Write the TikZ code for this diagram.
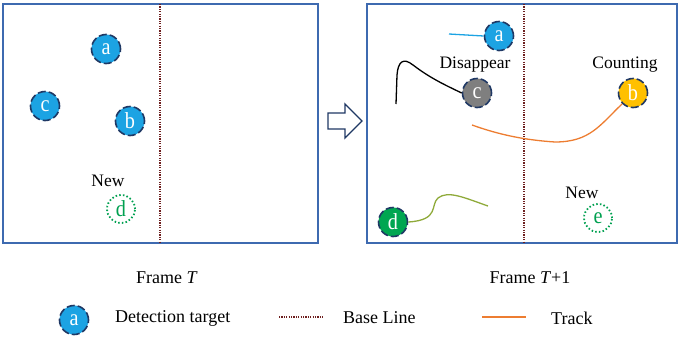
\documentclass[tikz,border=0pt]{standalone}
\usepackage{fontspec}
\setmainfont{Liberation Serif}
\newfontfamily\letfont[FakeStretch=0.88]{Liberation Serif}
\begin{document}
\begin{tikzpicture}[x=1pt,y=-1pt,
  frame/.style={draw=framecol,line width=1.2pt},
  base/.style={draw=baseRed,line width=1.3pt,dash pattern=on 1.2pt off 1.2pt},
  tgt/.style={circle,minimum size=29pt,inner sep=0pt,draw=navy,line width=1.6pt,dash pattern=on 8pt off 3pt,text=white,font=\letfont\fontsize{23}{23}\selectfont},
  newt/.style={circle,minimum size=28pt,inner sep=0pt,draw=dgreen,line width=1.8pt,dash pattern=on 1.5pt off 2.2pt,text=dgreen,font=\letfont\fontsize{23}{23}\selectfont},
  lbl/.style={font=\fontsize{17.5}{17.5}\selectfont},
  captxt/.style={font=\fontsize{18}{18}\selectfont},
  trk/.style={line width=1.3pt}]
\definecolor{framecol}{HTML}{3E6AB0}
\definecolor{baseRed}{HTML}{6E1F1F}
\definecolor{navy}{HTML}{1F3864}
\definecolor{cblue}{HTML}{1CA3E3}
\definecolor{dgreen}{HTML}{00A050}
\definecolor{cgray}{HTML}{7F7F7F}
\definecolor{cyellow}{HTML}{FFC000}
\definecolor{cgreen}{HTML}{00A651}
\definecolor{torange}{HTML}{ED7D31}
\definecolor{tolive}{HTML}{8FAA3A}
\useasboundingbox (0,0) rectangle (685,338);
% frames
\draw[frame] (3,4) rectangle (318,243);
\draw[frame] (367,4) rectangle (677,243);
\coordinate (bl1t) at (160,4); \coordinate (bl1b) at (160,243);
\coordinate (bl2t) at (524,4); \coordinate (bl2b) at (524,243);
\draw[base] (bl1t) -- (bl1b);
\draw[base] (bl2t) -- (bl2b);
% arrow
\draw[draw=navy,line width=1.4pt,line join=miter] (328,113) -- (345,113) -- (345,104) -- (362,121) -- (345,138) -- (345,129) -- (328,129) -- cycle;
% left frame targets
\node[tgt,fill=cblue] (la) at (106,49) {a};
\node[tgt,fill=cblue] (lc) at (45,106) {c};
\node[tgt,fill=cblue] (lb) at (130,121) {b};
\node[lbl] (lnew) at (108,181) {New};
\node[newt] (ld) at (121,209) {d};
% right frame
\node[tgt,fill=cblue] (ra) at (499,36) {a};
\coordinate (ta0) at (449,34);
\draw[trk,cblue] (ta0) -- (ra.west);
\node[lbl] (dis) at (475,65) {Disappear};
\node[tgt,fill=cgray] (rc) at (477,93) {c};
\coordinate (tc0) at (396,104);
\draw[trk,black] (rc.west) .. controls (445,85) and (430,78) .. (413,65) .. controls (403,57) and (398,62) .. (397,75) -- (tc0);
\node[lbl] (cnt) at (625,65) {Counting};
\node[tgt,fill=cyellow] (rb) at (633,93) {b};
\coordinate (tb0) at (472,125);
\draw[trk,torange] (rb.south west) .. controls (600,125) and (590,142) .. (555,142) .. controls (525,140) and (500,135) .. (tb0);
\node[tgt,fill=cgreen] (rd) at (393,222) {d};
\coordinate (td0) at (488,206);
\draw[trk,tolive] (rd.east) .. controls (440,220) and (430,205) .. (438,198) .. controls (448,190) and (465,198) .. (td0);
\node[lbl] (rnew) at (582,193) {New};
\node[newt] (re) at (598,218) {e};
% captions
\node[captxt] (ft) at (167,278) {Frame \textit{T}};
\node[captxt] (ft1) at (530,278) {Frame \textit{T}+1};
% legend
\node[tgt,fill=cblue] (lga) at (74,320) {a};
\node[captxt,anchor=west,inner sep=0pt] (lgat) at (115,318) {Detection target};
\coordinate (lgb0) at (279,317); \coordinate (lgb1) at (323,317);
\draw[base] (lgb0) -- (lgb1);
\node[captxt,anchor=west,inner sep=0pt] (lgbt) at (343,318) {Base Line};
\coordinate (lgc0) at (482,317); \coordinate (lgc1) at (526,317);
\draw[trk,torange] (lgc0) -- (lgc1);
\node[captxt,anchor=west,inner sep=0pt] (lgct) at (551,318) {Track};
\end{tikzpicture}
\end{document}
